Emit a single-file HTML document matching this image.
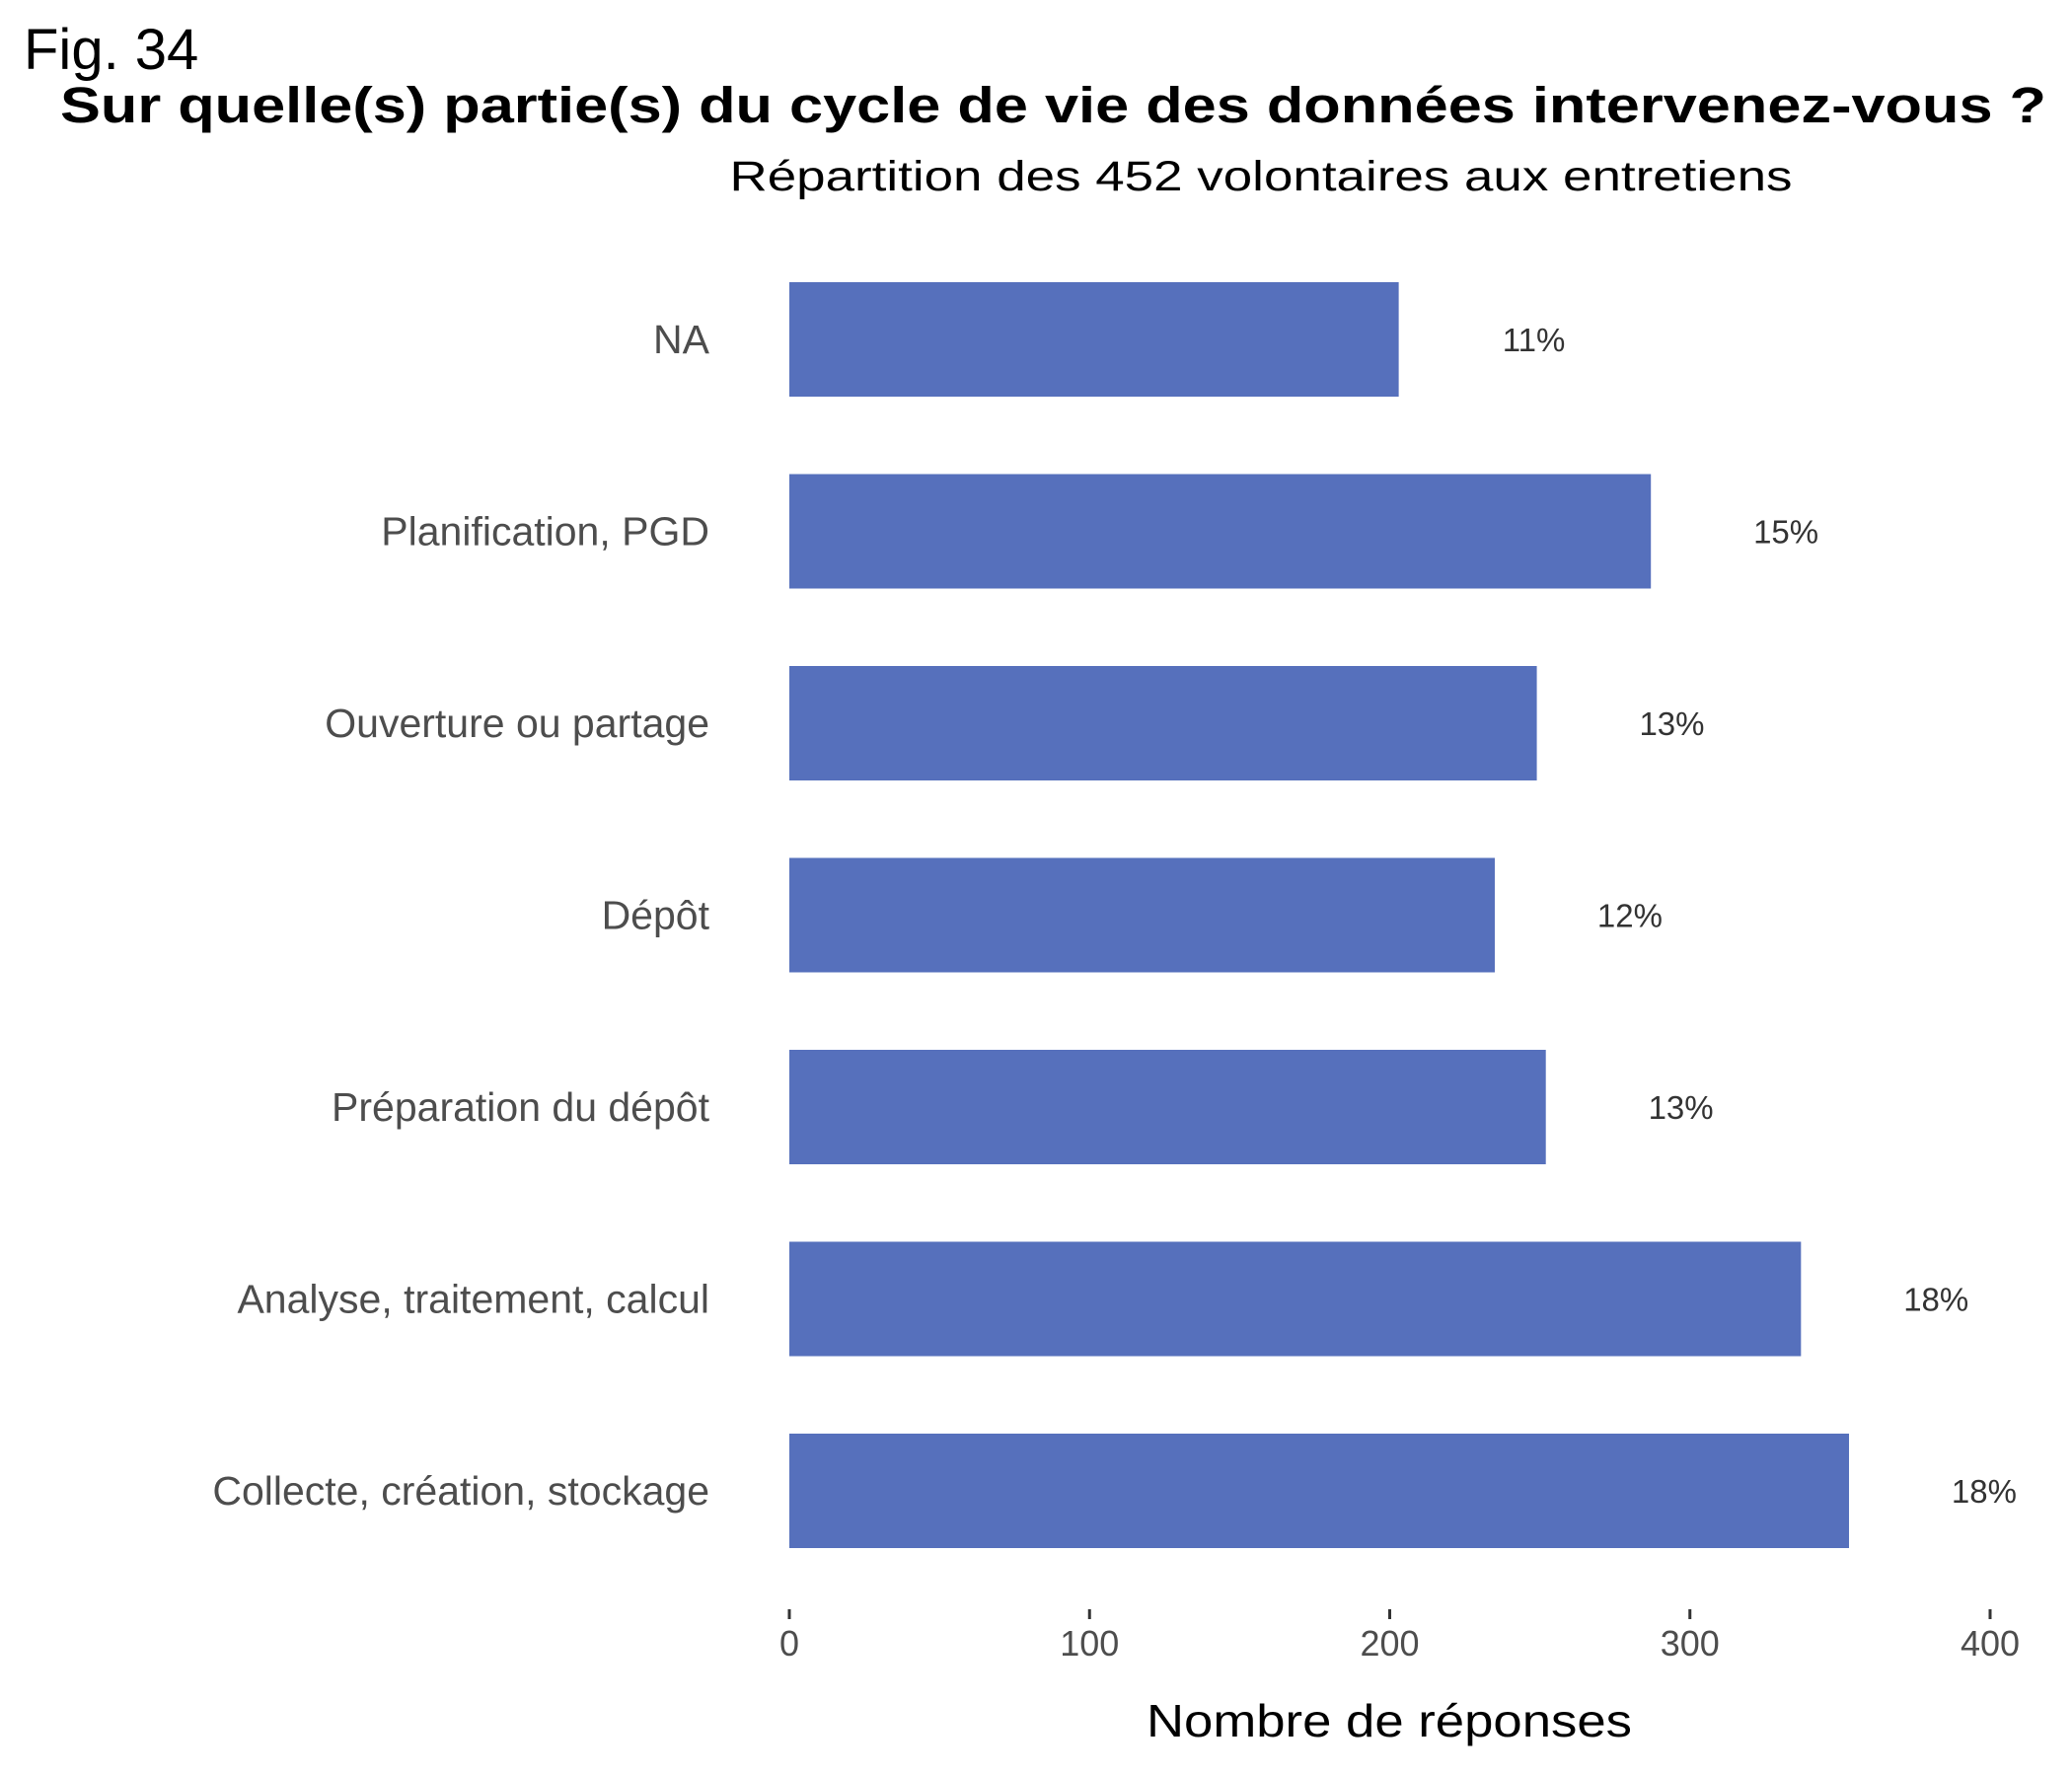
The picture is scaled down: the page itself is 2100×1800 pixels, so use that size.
<!DOCTYPE html>
<html><head><meta charset="utf-8"><style>
html,body{margin:0;padding:0;background:#fff;}
svg{display:block;font-family:"Liberation Sans","DejaVu Sans",sans-serif;}
</style></head><body>
<svg id="chart" width="2100" height="1800" viewBox="0 0 2100 1800" xmlns="http://www.w3.org/2000/svg">
<text x="24" y="70" font-size="58" fill="#000">Fig. 34</text>
<text x="61" y="124" font-size="51" font-weight="bold" fill="#000" textLength="2013" lengthAdjust="spacingAndGlyphs">Sur quelle(s) partie(s) du cycle de vie des données intervenez-vous ?</text>
<text x="1278" y="193" font-size="43" text-anchor="middle" fill="#000" textLength="1077" lengthAdjust="spacingAndGlyphs">Répartition des 452 volontaires aux entretiens</text>
<g id="bars"></g>
<g id="xaxis"></g>
<text x="1408" y="1760" font-size="46" text-anchor="middle" fill="#000" textLength="492" lengthAdjust="spacingAndGlyphs">Nombre de réponses</text>
</svg>
<script>
const categories = ["NA","Planification, PGD","Ouverture ou partage","Dépôt","Préparation du dépôt","Analyse, traitement, calcul","Collecte, création, stockage"];
const values = [203,287,249,235,252,337,353];
const pctLabels = ["11%","15%","13%","12%","13%","18%","18%"];
const ticks = [0,100,200,300,400];

const NS="http://www.w3.org/2000/svg";
const x0=800, x1=2017, xMax=400;
const xs=v=>x0+(v-0)/(xMax-0)*(x1-x0);
const yTop=344, yStep=(1511-344)/(categories.length-1), barH=116;
const ys=i=>yTop+i*yStep;
function mk(tag,attrs,parent,txt){const e=document.createElementNS(NS,tag);for(const k in attrs)e.setAttribute(k,attrs[k]);if(txt!==undefined)e.textContent=txt;parent.appendChild(e);return e;}
const gb=document.getElementById('bars');
categories.forEach((c,i)=>{
  const cy=ys(i);
  const r=mk('rect',{x:xs(0),y:cy-barH/2,width:xs(values[i])-xs(0),height:barH,fill:'#5670bc'},gb);
  
  
  const l=mk('text',{x:719,y:cy+14,'font-size':41,'text-anchor':'end',fill:'#4d4d4d'},gb,c);
  
  
  const p=mk('text',{x:xs(values[i]+45),y:cy+12,'font-size':33,'text-anchor':'middle',fill:'#333'},gb,pctLabels[i]);
  
  
});
const gx=document.getElementById('xaxis');
ticks.forEach(t=>{
  const tk=mk('line',{x1:xs(t),x2:xs(t),y1:1631,y2:1641,stroke:'#333','stroke-width':3},gx);
  
  
  const tl=mk('text',{x:xs(t),y:1678,'font-size':36,'text-anchor':'middle',fill:'#4d4d4d'},gx,String(t));
  
  
});
</script>
</body></html>
